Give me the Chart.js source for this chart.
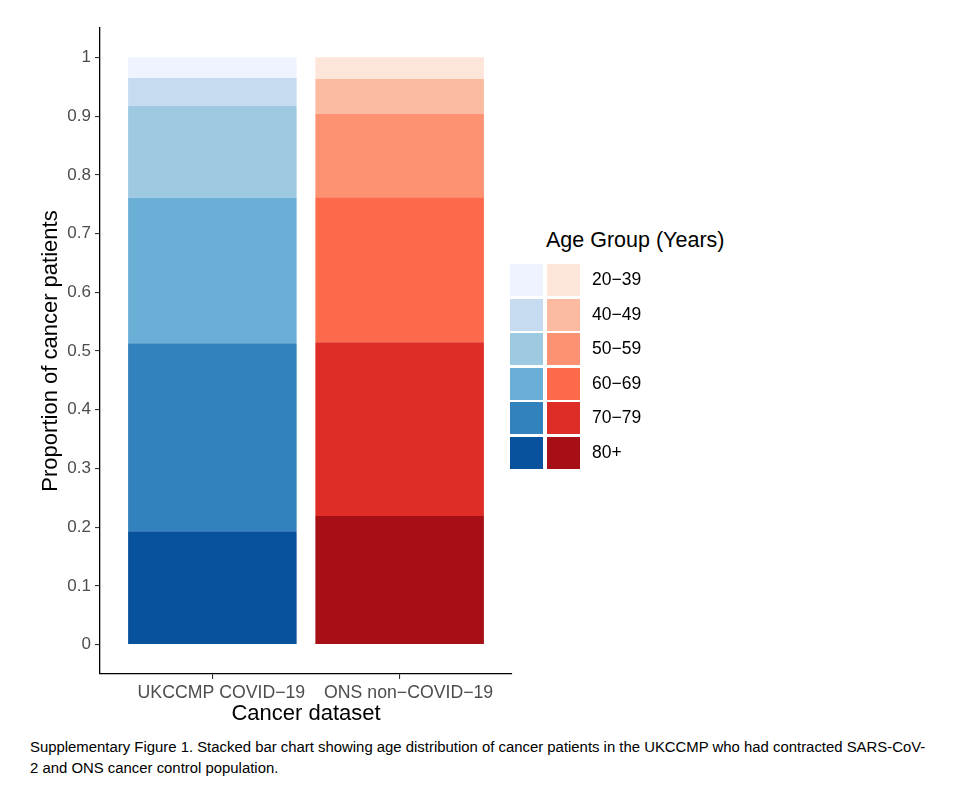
<!DOCTYPE html>
<html>
<head>
<meta charset="utf-8">
<script src="https://cdn.jsdelivr.net/npm/chart.js@4.4.1/dist/chart.umd.min.js"></script>
<style>
  body { margin: 0; background: #fff; font-family: "Liberation Sans", Arial, sans-serif; }
  #wrap { position: relative; width: 975px; height: 786px; }
  #chart { position: absolute; left: 0; top: 0; }
  #legend { position: absolute; left: 510px; top: 228px; }
  #legend .title { position: absolute; left: 36px; top: 0; font-size: 21.5px; white-space: nowrap; color: #000; }
  #legend .row { position: absolute; left: 0; height: 33px; }
  #legend .sw { position: absolute; top: 0; width: 33px; height: 32px; }
  #legend .lab { position: absolute; left: 82px; top: 5px; font-size: 17.5px; color: #000; white-space: nowrap; }
  #caption { position: absolute; left: 30px; top: 737px; font-family: "Liberation Sans", Arial, sans-serif; font-size: 14.9px; line-height: 21px; color: #000; width: 940px; white-space: nowrap; }
</style>
</head>
<body>
<div id="wrap">
  <canvas id="chart" width="520" height="730"></canvas>
  <div id="legend"></div>
  <div id="caption">Supplementary Figure 1. Stacked bar chart showing age distribution of cancer patients in the UKCCMP who had contracted SARS-CoV-<br>2 and ONS cancer control population.</div>
</div>
<script>
// datos
const categories = ['UKCCMP COVID\u221219', 'ONS non\u2212COVID\u221219'];
const ageGroups = ['80+', '70\u221279', '60\u221269', '50\u221259', '40\u221249', '20\u221239'];
const ukccmpValues = [0.193, 0.320, 0.248, 0.156, 0.048, 0.035];
const onsValues = [0.219, 0.296, 0.247, 0.142, 0.059, 0.037];
const bluePalette = ['#08519C', '#3182BD', '#6BAED6', '#9ECAE1', '#C6DBEF', '#EFF3FF'];
const redPalette = ['#A50F15', '#DE2D26', '#FB6A4A', '#FC9272', '#FCBBA1', '#FEE5D9'];
const yTicks = [0, 0.1, 0.2, 0.3, 0.4, 0.5, 0.6, 0.7, 0.8, 0.9, 1];
const yTickLabels = ['0', '0.1', '0.2', '0.3', '0.4', '0.5', '0.6', '0.7', '0.8', '0.9', '1'];

const datasets = ageGroups.map((g, i) => ({
    label: g,
    data: [
        { x: 1, y: ukccmpValues[i] },
        { x: 2, y: onsValues[i] }
    ],
    backgroundColor: [bluePalette[i], redPalette[i]],
    borderWidth: 0,
    categoryPercentage: 1,
    barPercentage: 0.9
}));

const tickFont = { family: '"Liberation Sans", Arial, sans-serif', size: 17 };
const titleFont = { family: '"Liberation Sans", Arial, sans-serif', size: 22 };

new Chart(document.getElementById('chart').getContext('2d'), {
    type: 'bar',
    data: { datasets },
    options: {
        responsive: false,
        animation: false,
        devicePixelRatio: 1,
        layout: { padding: { top: 28, right: 8, bottom: 0, left: 0 } },
        plugins: { legend: { display: false }, tooltip: { enabled: false } },
        scales: {
            x: {
                type: 'linear',
                stacked: true,
                offset: false,
                min: 0.4,
                max: 2.6,
                afterBuildTicks: s => { s.ticks = [{ value: 1 }, { value: 2 }]; },
                afterFit: s => { s.height = 56; },
                grid: { offset: false, drawOnChartArea: false, color: '#333', tickLength: 5, lineWidth: 1.1 },
                border: { display: true, color: '#000', width: 1.3 },
                ticks: {
                    font: { family: tickFont.family, size: 17.7 },
                    color: '#4D4D4D',
                    padding: 3,
                    labelOffset: 9,
                    maxRotation: 0,
                    autoSkip: false,
                    callback: v => categories[v - 1]
                },
                title: { display: true, text: 'Cancer dataset', font: titleFont, color: '#000', padding: { top: 0, bottom: 3 } }
            },
            y: {
                stacked: true,
                min: -0.05,
                max: 1.05,
                afterBuildTicks: s => { s.ticks = yTicks.map(v => ({ value: v })); },
                afterFit: s => { s.width = 100; },
                grid: { drawOnChartArea: false, color: '#333', tickLength: 5, lineWidth: 1.1 },
                border: { display: true, color: '#000', width: 1.3 },
                ticks: {
                    font: tickFont,
                    color: '#4D4D4D',
                    padding: 4,
                    autoSkip: false,
                    callback: (v) => yTickLabels[yTicks.indexOf(v)]
                },
                title: { display: true, text: 'Proportion of cancer patients', font: titleFont, color: '#000', padding: { top: 38, bottom: 0 } }
            }
        }
    }
});

// leyenda manual (dos columnas de colores)
const legend = document.getElementById('legend');
const title = document.createElement('div');
title.className = 'title';
title.textContent = 'Age Group (Years)';
legend.appendChild(title);
const legendOrder = [5, 4, 3, 2, 1, 0];
legendOrder.forEach((idx, row) => {
    const r = document.createElement('div');
    r.className = 'row';
    r.style.top = (36 + row * 34.6) + 'px';
    const b = document.createElement('div');
    b.className = 'sw';
    b.style.left = '0px';
    b.style.background = bluePalette[idx];
    const red = document.createElement('div');
    red.className = 'sw';
    red.style.left = '37px';
    red.style.background = redPalette[idx];
    const lab = document.createElement('div');
    lab.className = 'lab';
    lab.textContent = ageGroups[idx];
    r.appendChild(b);
    r.appendChild(red);
    r.appendChild(lab);
    legend.appendChild(r);
});
</script>
</body>
</html>
